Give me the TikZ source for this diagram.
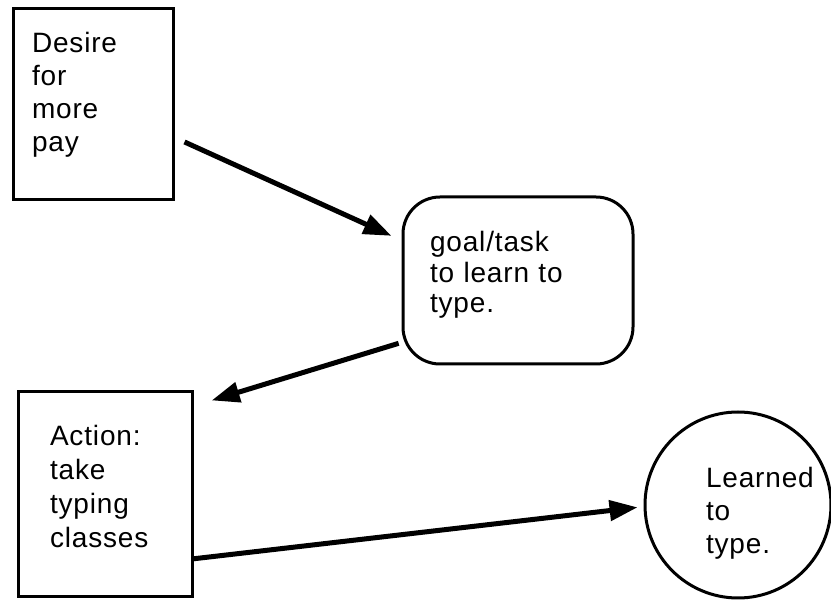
\documentclass[tikz,border=0pt]{standalone}
\usepackage{fontspec}
\setmainfont[LetterSpace=3]{Liberation Sans}
\usetikzlibrary{arrows.meta}
\begin{document}
\begin{tikzpicture}[x=1pt, y=-1pt,
        box/.style={draw, line width=3pt, align=left, inner sep=0pt, text height=20pt, font=\fontsize{28}{33}\selectfont},
        flow/.style={draw, line width=5pt, -{Triangle[length=28pt, width=20pt]}}]
    \useasboundingbox (0,0) rectangle (831,601);
    \node[box, minimum width=160pt, minimum height=191pt, text width=122pt, text depth=123pt] (desire) at (93,104.5) {Desire\\for\\more\\pay};
    \node[box, rounded corners=37pt, minimum width=230pt, minimum height=167pt, text width=176pt, text depth=77pt, font=\fontsize{28}{30.5}\selectfont] (goal) at (518,280.5) {goal/task\\to learn to\\type.};
    \node[box, minimum width=174pt, minimum height=205pt, text width=110pt, text depth=117pt, font=\fontsize{28}{33.7}\selectfont] (action) at (105,494.5) {Action:\\take\\typing\\classes};
    \node[box, circle, minimum size=186pt, text width=64pt, text depth=54pt] (learned) at (738,505) {Learned\\to\\type.};
    % arrows between the steps
    \draw[flow, shorten <=11pt, shorten >=11pt] (desire.338) -- (goal.161);
    \draw[flow, shorten <=3pt, shorten >=19pt] (goal.208) -- (action.45);
    \draw[flow, shorten >=6pt] (action.324) -- (learned.181);
\end{tikzpicture}
\end{document}
